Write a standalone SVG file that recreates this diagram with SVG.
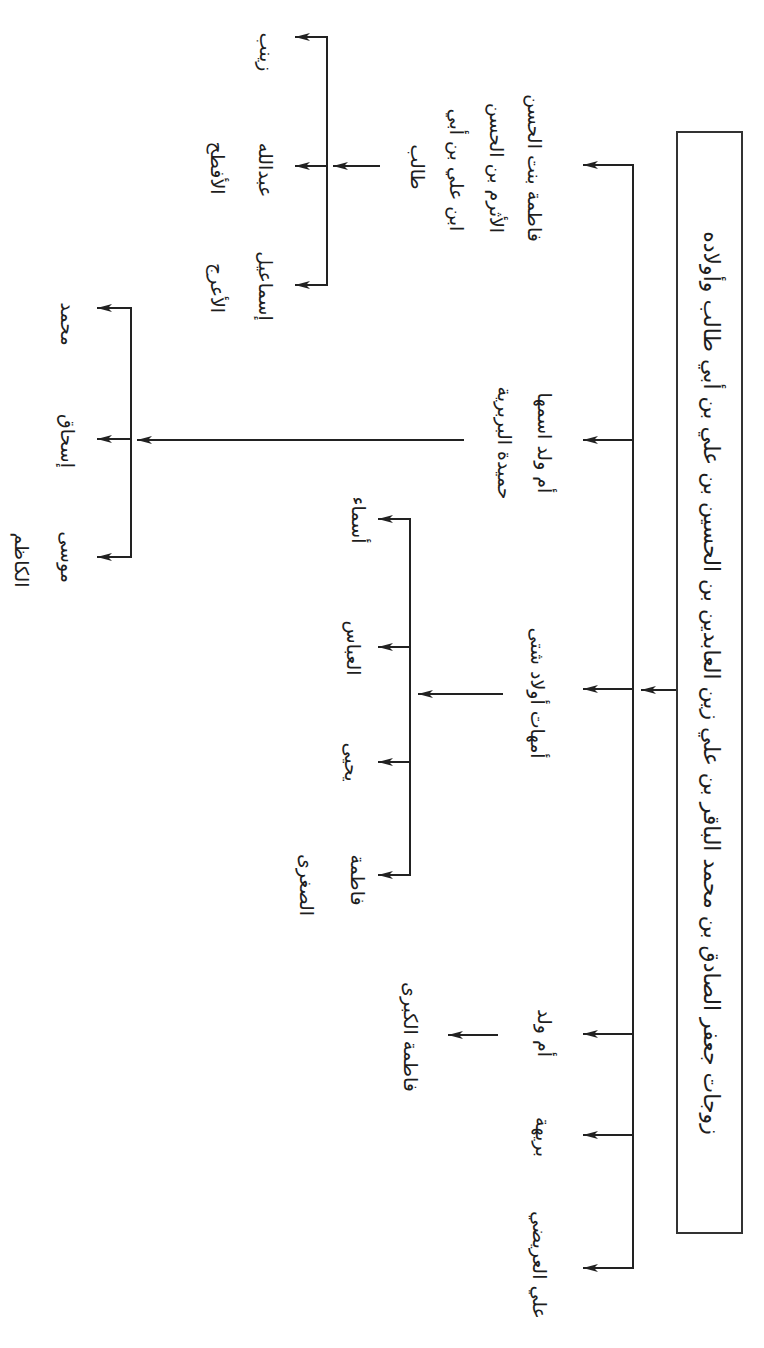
<svg xmlns="http://www.w3.org/2000/svg" width="764" height="1348" viewBox="0 0 764 1348">
<style>
.t{font-family:"DejaVu Sans",sans-serif;font-size:19px;fill:#1e1e1e;text-anchor:middle;dominant-baseline:central;direction:rtl}
.title{font-size:22px}
.ln{stroke:#222;stroke-width:2;fill:none}
.ar{stroke:#222;stroke-width:2;fill:none;marker-end:url(#ah)}
.box{fill:#fff;stroke:#333;stroke-width:2}
</style>
<defs>
<marker id="ah" markerUnits="userSpaceOnUse" markerWidth="16" markerHeight="8" refX="15" refY="4" orient="auto">
<path d="M0,0 L15,4 L0,8 L4,4 z" fill="#222"/>
</marker>
</defs>
<rect width="764" height="1348" fill="#fff"/>

<g id="connectors">
<line class="ar" x1="677" y1="690" x2="641" y2="690"/>
<line class="ln" x1="633" y1="164" x2="633" y2="1269"/>
<line class="ar" x1="633" y1="165" x2="583" y2="165"/>
<line class="ar" x1="633" y1="440" x2="583" y2="440"/>
<line class="ar" x1="633" y1="689" x2="583" y2="689"/>
<line class="ar" x1="633" y1="1034" x2="583" y2="1034"/>
<line class="ar" x1="633" y1="1135" x2="583" y2="1135"/>
<line class="ar" x1="633" y1="1268" x2="583" y2="1268"/>

<line class="ar" x1="380" y1="166" x2="333" y2="166"/>
<line class="ln" x1="327" y1="36" x2="327" y2="286"/>
<line class="ar" x1="327" y1="37" x2="295" y2="37"/>
<line class="ar" x1="327" y1="166" x2="295" y2="166"/>
<line class="ar" x1="327" y1="285" x2="295" y2="285"/>

<line class="ar" x1="464" y1="440" x2="137" y2="440"/>
<line class="ln" x1="131" y1="307" x2="131" y2="558"/>
<line class="ar" x1="131" y1="308" x2="97" y2="308"/>
<line class="ar" x1="131" y1="439" x2="97" y2="439"/>
<line class="ar" x1="131" y1="557" x2="97" y2="557"/>

<line class="ar" x1="503" y1="694" x2="418" y2="694"/>
<line class="ln" x1="410" y1="518" x2="410" y2="876"/>
<line class="ar" x1="410" y1="519" x2="378" y2="519"/>
<line class="ar" x1="410" y1="647" x2="378" y2="647"/>
<line class="ar" x1="410" y1="762" x2="378" y2="762"/>
<line class="ar" x1="410" y1="875" x2="378" y2="875"/>

<line class="ar" x1="498" y1="1035" x2="448" y2="1035"/>
</g>

<g id="title">
<rect class="box" x="677" y="132" width="65" height="1101"/>
<text class="t title" transform="translate(711,683) rotate(90)">زوجات جعفر الصادق بن محمد الباقر بن علي زين العابدين بن الحسين بن علي بن أبي طالب وأولاده</text>
</g>

<g id="fatima-bint-alhasan">
<text class="t" transform="translate(535,168) rotate(90)">فاطمة بنت الحسن</text>
<text class="t" transform="translate(497,168) rotate(90)">الأثرم بن الحسن</text>
<text class="t" transform="translate(457,170) rotate(90)">ابن علي بن أبي</text>
<text class="t" transform="translate(418,167) rotate(90)">طالب</text>
</g>
<g id="zaynab"><text class="t" transform="translate(267,52) rotate(90)">زينب</text></g>
<g id="abdullah-alaftah">
<text class="t" transform="translate(266,170) rotate(90)">عبدالله</text>
<text class="t" transform="translate(218,168) rotate(90)">الأفطح</text>
</g>
<g id="ismail-alaraj">
<text class="t" transform="translate(266,286) rotate(90)">إسماعيل</text>
<text class="t" transform="translate(218,288) rotate(90)">الأعرج</text>
</g>

<g id="hamida">
<text class="t" transform="translate(545,443) rotate(90)">أم ولد اسمها</text>
<text class="t" transform="translate(505,443) rotate(90)">حميدة البربرية</text>
</g>
<g id="muhammad"><text class="t" transform="translate(68,324) rotate(90)">محمد</text></g>
<g id="ishaq"><text class="t" transform="translate(68,441) rotate(90)">إسحاق</text></g>
<g id="musa-alkazim">
<text class="t" transform="translate(68,557) rotate(90)">موسى</text>
<text class="t" transform="translate(22,560) rotate(90)">الكاظم</text>
</g>

<g id="ummahat">
<text class="t" transform="translate(538,693) rotate(90)">أمهات أولاد شتى</text>
</g>
<g id="asma"><text class="t" transform="translate(359,520) rotate(90)">أسماء</text></g>
<g id="abbas"><text class="t" transform="translate(354,648) rotate(90)">العباس</text></g>
<g id="yahya"><text class="t" transform="translate(352,762) rotate(90)">يحيى</text></g>
<g id="fatima-alsughra">
<text class="t" transform="translate(358,880) rotate(90)">فاطمة</text>
<text class="t" transform="translate(307,885) rotate(90)">الصغرى</text>
</g>

<g id="umm-walad"><text class="t" transform="translate(545,1033) rotate(90)">أم ولد</text></g>
<g id="fatima-alkubra"><text class="t" transform="translate(411,1037) rotate(90)">فاطمة الكبرى</text></g>
<g id="buraiha"><text class="t" transform="translate(543,1137) rotate(90)">بريهة</text></g>
<g id="ali-aluraydi"><text class="t" transform="translate(540,1265) rotate(90)">علي العريضي</text></g>
</svg>
